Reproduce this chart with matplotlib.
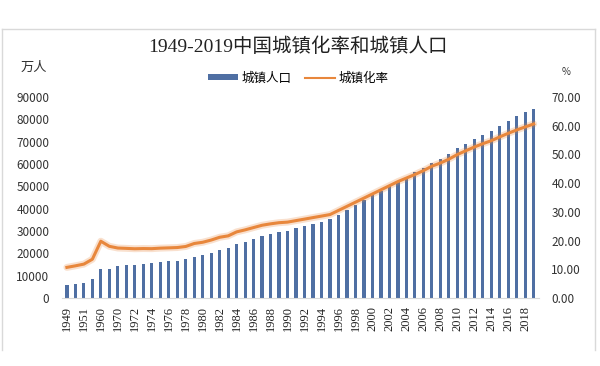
import numpy as np
import matplotlib.pyplot as plt
from matplotlib.lines import Line2D

plt.rcParams['font.family'] = ['Noto Sans CJK SC', 'DejaVu Sans']

# categories (years) and data
years = ['1949', '1950', '1951', '1955', '1960', '1965'] + [str(y) for y in range(1970, 2020)]
urban_pop = [5765, 6169, 6632, 8285, 13073, 13045,
             14424, 14711, 14935, 15345, 15595, 16030, 16341, 16669, 17245, 18495,
             19140, 20171, 21480, 22274, 24017, 25094, 26366, 27674, 28661, 29540,
             30195, 31203, 32175, 33173, 34169, 35174, 37304, 39449, 41608, 43748,
             45906, 48064, 50212, 52376, 54283, 56212, 58288, 60633, 62403, 64512,
             66978, 69079, 71182, 73111, 74916, 77116, 79298, 81347, 83137, 84843]
urban_rate = [10.64, 11.18, 11.78, 13.48, 19.75, 17.98,
              17.38, 17.26, 17.13, 17.20, 17.16, 17.34, 17.44, 17.55, 17.92, 18.96,
              19.39, 20.16, 21.13, 21.62, 23.01, 23.71, 24.52, 25.32, 25.81, 26.21,
              26.41, 26.94, 27.46, 27.99, 28.51, 29.04, 30.48, 31.91, 33.35, 34.78,
              36.22, 37.66, 39.09, 40.53, 41.76, 42.99, 44.34, 45.89, 46.99, 48.34,
              49.95, 51.27, 52.57, 53.73, 54.77, 56.10, 57.35, 58.52, 59.58, 60.60]

bar_color = '#4f6fa3'
line_color = '#e8873c'
serif = ['Liberation Serif', 'Noto Sans CJK SC']

fig = plt.figure(figsize=(6, 3.66), dpi=100)
# light frame around the chart (top, left, right)
for xs, ys in [([0.004, 0.992], [0.921, 0.921]), ([0.004, 0.004], [0.044, 0.921]),
               ([0.992, 0.992], [0.044, 0.921])]:
    fig.lines.append(Line2D(xs, ys, transform=fig.transFigure, color='#d9d9d9', linewidth=1))

ax = fig.add_axes([0.103, 0.186, 0.795, 0.549])
x = np.arange(len(years))
bars = ax.bar(x, urban_pop, width=0.38, color=bar_color, label='城镇人口')
ax.set_ylim(0, 90000)
ax.set_yticks(np.arange(0, 90001, 10000))
ax.tick_params(axis='y', length=0, labelsize=8.5, pad=9, colors='#333333')
ax.set_xlim(-0.6, len(years) - 0.4)
ax.set_xticks(x[::2])
ax.set_xticklabels(years[::2], rotation=90, fontsize=9, family=serif, color='#222222')
ax.tick_params(axis='x', length=0, pad=6)
for s in ['top', 'left', 'right']:
    ax.spines[s].set_visible(False)
ax.spines['bottom'].set_color('#d9d9d9')

ax2 = ax.twinx()
# soft glow under the line
ax2.plot(x, urban_rate, color=line_color, linewidth=5, alpha=0.25, solid_capstyle='round')
ax2.plot(x, urban_rate, color=line_color, linewidth=2.2)
ax2.set_ylim(0, 70)
ax2.set_yticks(np.arange(0, 71, 10))
ax2.set_yticklabels([f'{v:.2f}' for v in np.arange(0, 71, 10)])
ax2.tick_params(axis='y', length=0, labelsize=8.5, pad=9, colors='#333333')
for s in ['top', 'left', 'right', 'bottom']:
    ax2.spines[s].set_visible(False)

fig.text(0.497, 0.872, '1949-2019中国城镇化率和城镇人口', ha='center', va='center',
         fontsize=14, family=serif, color='#222222')
fig.text(0.057, 0.815, '万人', ha='center', va='center', fontsize=9.5, color='#333333')
fig.text(0.943, 0.803, '%', ha='center', va='center', fontsize=7, color='#333333')

legend_line = Line2D([], [], color=line_color, linewidth=1.5)
fig.legend([bars, legend_line], ['城镇人口', '城镇化率'], loc='center',
           bbox_to_anchor=(0.497, 0.787), ncol=2, frameon=False, fontsize=9,
           handlelength=2.4, handleheight=0.4, handletextpad=0.3, columnspacing=1.1)

plt.savefig('out.png', dpi=100)
